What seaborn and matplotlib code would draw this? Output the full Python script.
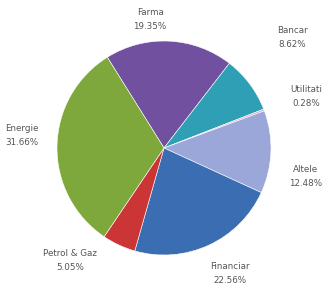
import matplotlib
matplotlib.use("Agg")
import matplotlib.pyplot as plt
import seaborn as sns

# slices, clockwise from the Farma/Energie border
sectors = ["Farma", "Bancar", "Utilitati", "Altele", "Financiar", "Petrol & Gaz", "Energie"]
shares = [19.35, 8.62, 0.28, 12.48, 22.56, 5.05, 31.66]
colors = ["#7150a0", "#2f9fb6", "#d9a9c4", "#9ba7d9", "#3b6db2", "#cc3535", "#7ea83c"]

# label anchors (data coords, pie radius = 1) and horizontal alignment
label_pos = {
    "Farma": (-0.13, 1.20, "center"),
    "Bancar": (1.20, 1.03, "center"),
    "Utilitati": (1.48, 0.48, "right"),
    "Altele": (1.48, -0.27, "right"),
    "Financiar": (0.62, -1.17, "center"),
    "Petrol & Gaz": (-0.88, -1.05, "center"),
    "Energie": (-1.33, 0.12, "center"),
}


def plot_pie():
    sns.set_theme(style="white")
    plt.rcParams["font.family"] = ["DejaVu Sans"]

    fig = plt.figure(figsize=(3.25, 2.84), dpi=100)
    fig.patch.set_facecolor("white")
    ax = fig.add_axes([57 / 325, 29 / 284, 214 / 325, 214 / 284])

    ax.pie(shares, colors=colors, startangle=122, counterclock=False,
           radius=1.0, wedgeprops=dict(edgecolor="white", linewidth=0.4))

    for name, val in zip(sectors, shares):
        x, y, ha = label_pos[name]
        ax.text(x, y, f"{name}\n{val:.2f}%", ha=ha, va="center",
                multialignment="center", fontsize=6.3, color="#555555",
                linespacing=1.7, clip_on=False)

    ax.set_xlim(-1.0, 1.0)
    ax.set_ylim(-1.0, 1.0)
    ax.set_aspect("equal")
    ax.axis("off")
    fig.savefig("out.png", dpi=100)


if __name__ == "__main__":
    plot_pie()
